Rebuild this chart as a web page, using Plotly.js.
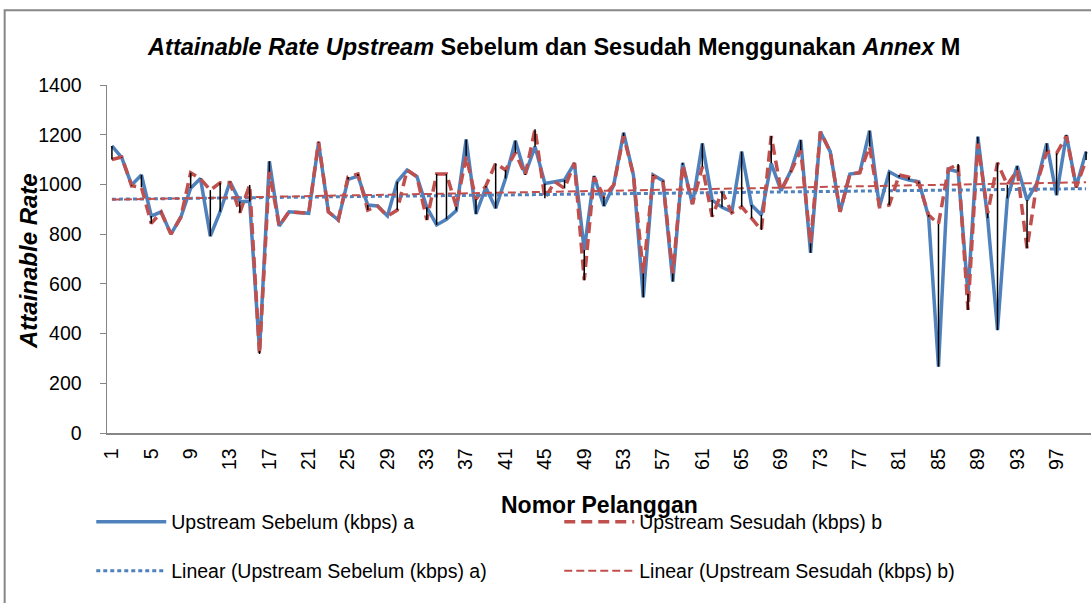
<!DOCTYPE html>
<html>
<head>
<meta charset="utf-8">
<script src="https://cdn.plot.ly/plotly-3.0.1.min.js"></script>
<style>
  html, body { margin: 0; padding: 0; background: #ffffff; }
  #chart { width: 1091px; height: 603px; }
</style>
</head>
<body>
<div id="chart"></div>
<script>
// ---- Data ----
const customers = Array.from({length: 100}, (_, k) => k + 1); // Nomor Pelanggan 1..100
const upstreamSebelum = [
  1155, 1108, 998, 1038, 873, 890, 800, 868, 985, 1024,
  792, 890, 1011, 931, 931, 330, 1093, 833, 890, 886,
  884, 1168, 890, 857, 1020, 1034, 917, 913, 873, 1011,
  1058, 1031, 908, 837, 860, 895, 1181, 881, 988, 904,
  1024, 1176, 1042, 1152, 1004, 1011, 1018, 1085, 736, 1034,
  913, 998, 1208, 1038, 546, 1038, 1015, 609, 1087, 921,
  1165, 937, 908, 890, 1132, 917, 877, 1085, 975, 1055,
  1179, 725, 1212, 1132, 890, 1042, 1047, 1216, 910, 1051,
  1029, 1018, 1011, 870, 267, 1061, 1051, 560, 1192, 864,
  414, 944, 1074, 937, 1004, 1165, 957, 1199, 991, 1132
];
const upstreamSesudah = [
  1100, 1110, 995, 988, 843, 888, 800, 868, 1047, 1022,
  977, 1007, 1008, 886, 998, 318, 1051, 833, 890, 886,
  884, 1172, 890, 857, 1030, 1042, 897, 913, 873, 897,
  1058, 1031, 857, 1042, 1042, 910, 1112, 940, 994, 1085,
  1058, 1128, 1038, 1222, 944, 1011, 984, 1087, 615, 1030,
  951, 998, 1195, 1038, 642, 1034, 1011, 642, 1078, 921,
  1071, 870, 972, 886, 910, 864, 817, 1195, 975, 1051,
  1138, 763, 1212, 1132, 890, 1042, 1047, 1152, 910, 917,
  1038, 1029, 1004, 877, 841, 1061, 1082, 495, 1165, 884,
  1087, 998, 1058, 743, 1004, 1132, 1125, 1195, 988, 1098
];
const xTickValues = [1,5,9,13,17,21,25,29,33,37,41,45,49,53,57,61,65,69,73,77,81,85,89,93,97];
const xTickLabels = ["1","5","9","13","17","21","25","29","33","37","41","45","49","53","57","61","65","69","73","77","81","85","89","93","97"];
const yTickValues = [0,200,400,600,800,1000,1200,1400];
const seriesNames = [
  "Upstream Sebelum (kbps) a",
  "Upstream Sesudah (kbps) b",
  "Linear (Upstream Sebelum (kbps) a)",
  "Linear (Upstream Sesudah (kbps) b)"
];

// ---- Linear trend (least squares), as the spreadsheet trendline does ----
function linearFit(xs, ys) {
  const n = xs.length;
  let sx = 0, sy = 0, sxx = 0, sxy = 0;
  for (let i = 0; i < n; i++) { sx += xs[i]; sy += ys[i]; sxx += xs[i]*xs[i]; sxy += xs[i]*ys[i]; }
  const m = (n*sxy - sx*sy) / (n*sxx - sx*sx);
  const c = (sy - m*sx) / n;
  return xs.map(x => m*x + c);
}
const trendSebelum = linearFit(customers, upstreamSebelum);
const trendSesudah = linearFit(customers, upstreamSesudah);

// ---- High-low lines between the two series ----
const hlX = [], hlY = [];
customers.forEach((c, i) => {
  hlX.push(c, c, null);
  hlY.push(upstreamSebelum[i], upstreamSesudah[i], null);
});

const BLUE = "#4F81BD";
const RED = "#C0504D";
const FONT = "Liberation Sans, Arial, sans-serif";

const traces = [
  { x: customers, y: upstreamSebelum, type: "scatter", mode: "lines", name: seriesNames[0],
    line: { color: BLUE, width: 3.5 }, legend: "legend" },
  { x: customers, y: upstreamSesudah, type: "scatter", mode: "lines", name: seriesNames[1],
    line: { color: RED, width: 3.5, dash: "11px,6px" }, legend: "legend" },
  { x: customers, y: trendSebelum, type: "scatter", mode: "lines", name: seriesNames[2],
    line: { color: BLUE, width: 3, dash: "4px,3px" }, legend: "legend2" },
  { x: customers, y: trendSesudah, type: "scatter", mode: "lines", name: seriesNames[3],
    line: { color: RED, width: 2, dash: "8px,4px" }, legend: "legend2" },
  { x: hlX, y: hlY, type: "scatter", mode: "lines", showlegend: false, hoverinfo: "skip",
    line: { color: "#000000", width: 1.5 } }
];

const legendCommon = {
  orientation: "h", xanchor: "left", yanchor: "middle",
  font: { family: FONT, size: 19.5, color: "#000" },
  bgcolor: "rgba(0,0,0,0)", entrywidth: 383, entrywidthmode: "pixels",
  itemwidth: 70, tracegroupgap: 0
};

const layout = {
  width: 1091, height: 603,
  margin: { l: 107, r: 0, t: 85, b: 170, pad: 0 },
  paper_bgcolor: "#ffffff", plot_bgcolor: "#ffffff",
  font: { family: FONT, color: "#000" },
  title: {
    text: "<b><i>Attainable Rate Upstream</i> Sebelum dan Sesudah Menggunakan <i>Annex</i> M</b>",
    font: { family: FONT, size: 23.5, color: "#000" },
    x: 0.508, xanchor: "center", y: 0.922, yanchor: "middle"
  },
  xaxis: {
    range: [0.5, 100.5], tickmode: "array", tickvals: xTickValues, ticktext: xTickLabels,
    tickangle: -90, showgrid: false, zeroline: false, showline: true,
    linecolor: "#868686", linewidth: 1.5, ticks: "", ticklabelstandoff: 6,
    tickfont: { family: FONT, size: 19.5, color: "#000" }
  },
  yaxis: {
    range: [0, 1400], tickmode: "array", tickvals: yTickValues,
    showgrid: false, zeroline: false, showline: true,
    linecolor: "#868686", linewidth: 1.5, ticks: "outside", ticklen: 6, tickcolor: "#868686",
    ticklabelstandoff: 14,
    tickfont: { family: FONT, size: 19.5, color: "#000" }
  },
  legend: Object.assign({}, legendCommon, { x: -0.016, y: -0.2557 }),
  legend2: Object.assign({}, legendCommon, { x: -0.016, y: -0.3966 }),
  annotations: [
    { text: "<b><i>Attainable Rate</i></b>", textangle: -90, showarrow: false,
      xref: "paper", yref: "paper", x: -0.080, y: 0.495, xanchor: "center", yanchor: "middle",
      font: { family: FONT, size: 24, color: "#000" } },
    { text: "<b>Nomor Pelanggan</b>", showarrow: false,
      xref: "paper", yref: "paper", x: 0.5, y: -0.207, xanchor: "center", yanchor: "middle",
      font: { family: FONT, size: 23, color: "#000" } }
  ],
  shapes: [
    { type: "rect", xref: "paper", yref: "paper", x0: -0.104, x1: 1.05, y0: -0.7, y1: 1.215,
      line: { color: "#878787", width: 2 }, fillcolor: "rgba(0,0,0,0)", layer: "below" }
  ],
  showlegend: true
};

Plotly.newPlot("chart", traces, layout, { staticPlot: true, displayModeBar: false });
</script>
</body>
</html>
